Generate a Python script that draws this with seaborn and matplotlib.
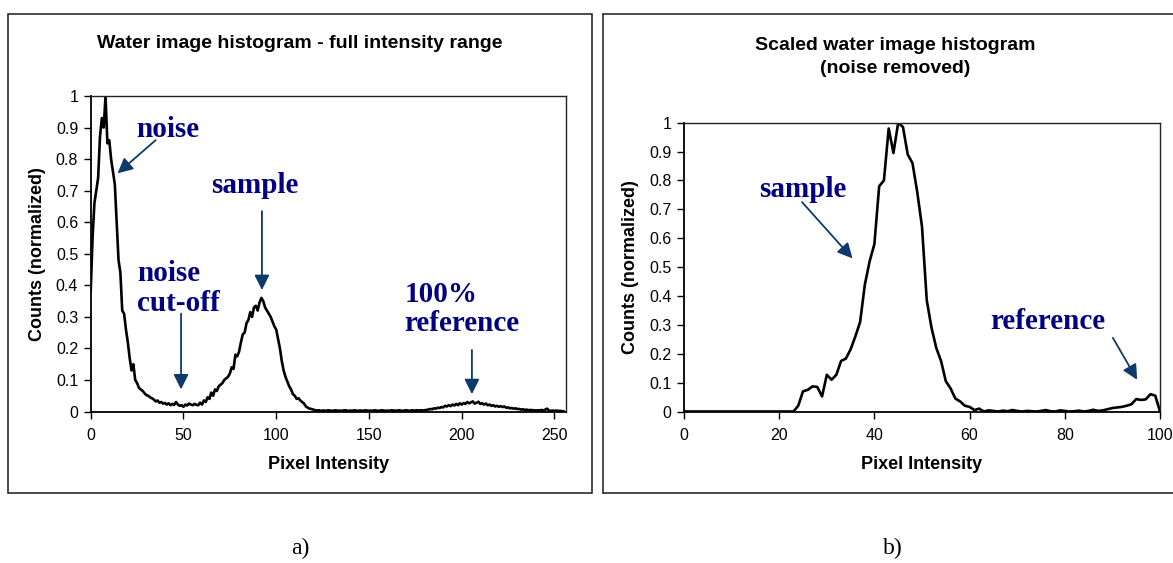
import matplotlib
matplotlib.use("Agg")
import matplotlib.pyplot as plt
import seaborn as sns
import pandas as pd
import numpy as np
from matplotlib.patches import Rectangle
from matplotlib.lines import Line2D

# ---------------- data ----------------
# Panel a) full intensity range, one value per intensity 0..255
full_counts = [
    0.38, 0.55, 0.66, 0.70, 0.74, 0.87, 0.93, 0.90, 1.00, 0.85,
    0.86, 0.80, 0.76, 0.72, 0.60, 0.48, 0.44, 0.32, 0.31, 0.26,
    0.22, 0.17, 0.13, 0.15, 0.10, 0.09, 0.075, 0.07, 0.065, 0.058,
    0.052, 0.050, 0.045, 0.042, 0.038, 0.032, 0.035, 0.028, 0.030, 0.025,
    0.027, 0.022, 0.026, 0.020, 0.024, 0.021, 0.030, 0.022, 0.018, 0.020,
    0.015, 0.022, 0.019, 0.025, 0.022, 0.020, 0.024, 0.021, 0.020, 0.028,
    0.022, 0.035, 0.030, 0.045, 0.040, 0.060, 0.050, 0.070, 0.065, 0.080,
    0.085, 0.090, 0.100, 0.105, 0.110, 0.120, 0.140, 0.135, 0.180, 0.175,
    0.190, 0.220, 0.245, 0.250, 0.280, 0.290, 0.315, 0.300, 0.330, 0.335,
    0.320, 0.345, 0.360, 0.350, 0.330, 0.320, 0.310, 0.300, 0.285, 0.270,
    0.260, 0.230, 0.200, 0.160, 0.130, 0.110, 0.095, 0.080, 0.070, 0.055,
    0.050, 0.040, 0.042, 0.035, 0.030, 0.025, 0.016, 0.012, 0.009, 0.008,
    0.006, 0.004, 0.003, 0.004, 0.002, 0.003, 0.003, 0.002, 0.004, 0.003,
    0.002, 0.003, 0.004, 0.002, 0.003, 0.002, 0.003, 0.004, 0.003, 0.002,
    0.003, 0.002, 0.004, 0.003, 0.002, 0.003, 0.003, 0.002, 0.004, 0.003,
    0.002, 0.003, 0.002, 0.004, 0.003, 0.002, 0.003, 0.004, 0.003, 0.002,
    0.003, 0.002, 0.004, 0.003, 0.003, 0.002, 0.004, 0.003, 0.002, 0.003,
    0.004, 0.003, 0.002, 0.004, 0.003, 0.003, 0.004, 0.003, 0.004, 0.003,
    0.004, 0.005, 0.006, 0.008, 0.007, 0.010, 0.009, 0.012, 0.011, 0.014,
    0.013, 0.018, 0.016, 0.020, 0.017, 0.022, 0.019, 0.024, 0.020, 0.026,
    0.022, 0.027, 0.024, 0.030, 0.026, 0.029, 0.032, 0.025, 0.028, 0.031,
    0.024, 0.026, 0.022, 0.025, 0.020, 0.022, 0.018, 0.020, 0.016, 0.018,
    0.015, 0.017, 0.014, 0.016, 0.012, 0.013, 0.010, 0.011, 0.009, 0.010,
    0.008, 0.008, 0.006, 0.007, 0.005, 0.006, 0.004, 0.005, 0.004, 0.004,
    0.003, 0.004, 0.003, 0.005, 0.003, 0.006, 0.009, 0.003, 0.002, 0.003,
    0.002, 0.003, 0.002, 0.002, 0.001, 0.001,
]
full_intensity = list(range(len(full_counts)))

# Panel b) scaled histogram, intensity 0..100
scaled_counts = [
    0, 0, 0, 0, 0, 0, 0, 0, 0, 0,
    0, 0, 0, 0, 0, 0, 0, 0, 0, 0,
    0, 0, 0, 0, 0.02, 0.07, 0.075, 0.087, 0.085, 0.052,
    0.127, 0.11, 0.127, 0.175, 0.183, 0.215, 0.26, 0.31, 0.44, 0.52,
    0.58, 0.78, 0.80, 0.98, 0.895, 1.00, 0.985, 0.89, 0.86, 0.76,
    0.64, 0.385, 0.29, 0.22, 0.175, 0.105, 0.08, 0.045, 0.035, 0.02,
    0.016, 0.005, 0.010, 0.0, 0.004, 0.002, 0.0, 0.003, 0.001, 0.005,
    0.002, 0.0, 0.002, 0.001, 0.0, 0.002, 0.005, 0.001, 0.0, 0.004,
    0.002, 0.0, 0.001, 0.003, 0.0, 0.002, 0.006, 0.002, 0.004, 0.008,
    0.012, 0.014, 0.016, 0.020, 0.025, 0.043, 0.040, 0.042, 0.060, 0.055,
    0.0,
]
scaled_intensity = list(range(len(scaled_counts)))

y_ticks = [0, 0.1, 0.2, 0.3, 0.4, 0.5, 0.6, 0.7, 0.8, 0.9, 1]
y_tick_labels = ["0", "0.1", "0.2", "0.3", "0.4", "0.5", "0.6", "0.7", "0.8", "0.9", "1"]
x_ticks_a = [0, 50, 100, 150, 200, 250]
x_ticks_b = [0, 20, 40, 60, 80, 100]

title_a = "Water image histogram - full intensity range"
title_b = "Scaled water image histogram\n(noise removed)"
xlabel = "Pixel Intensity"
ylabel = "Counts (normalized)"

# ---------------- style ----------------
sns.set_theme(style="white")
plt.rcParams["font.family"] = ["Liberation Sans", "DejaVu Sans"]
plt.rcParams["text.color"] = "black"
plt.rcParams["axes.labelcolor"] = "black"

W, H = 1173, 563
fig = plt.figure(figsize=(W / 100, H / 100), dpi=100)

def fx(px):
    return px / W

def fy(py):
    return (H - py) / H

ax_a = fig.add_axes([fx(90.7), fy(411.5), fx(565.6) - fx(90.7), fy(96) - fy(411.5)])
ax_b = fig.add_axes([fx(684), fy(411.5), fx(1160) - fx(684), fy(122.7) - fy(411.5)])

df_a = pd.DataFrame({"x": full_intensity, "y": full_counts})
df_b = pd.DataFrame({"x": scaled_intensity, "y": scaled_counts})
sns.lineplot(data=df_a, x="x", y="y", ax=ax_a, color="black", lw=1.9)
sns.lineplot(data=df_b, x="x", y="y", ax=ax_b, color="black", lw=1.9)

text_color = "#000080"
arrow_color = "#0d3a6a"

for ax, xt, xmax in [(ax_a, x_ticks_a, 256), (ax_b, x_ticks_b, 100)]:
    ax.set_xlim(0, xmax)
    ax.set_ylim(0, 1)
    ax.set_xticks(xt)
    ax.set_xticklabels([str(v) for v in xt])
    ax.set_yticks(y_ticks)
    ax.set_yticklabels(y_tick_labels)
    ax.tick_params(axis="both", which="major", direction="out", length=5,
                   width=1, colors="black", labelsize=11.5, pad=4,
                   bottom=True, left=True)
    ax.tick_params(axis="x", pad=7)
    for s in ["left", "bottom"]:
        ax.spines[s].set_color("black")
        ax.spines[s].set_linewidth(1.3)
    for s in ["top", "right"]:
        ax.spines[s].set_color("#222222")
        ax.spines[s].set_linewidth(1.0)
    ax.set_xlabel(xlabel, fontsize=13, fontweight="bold", labelpad=9, color="black")
    ax.set_ylabel(ylabel, fontsize=13, fontweight="bold", labelpad=7, color="black")
    ax.grid(False)
    ax.set_facecolor("white")

# titles
fig.text(fx(300), fy(44), title_a, ha="center", va="center", fontsize=14,
         fontweight="bold", color="black")
fig.text(fx(895), fy(57), title_b, ha="center", va="center", fontsize=14,
         fontweight="bold", linespacing=1.5, color="black")

# annotations
serif = ["Liberation Serif", "DejaVu Serif"]
aprops = dict(arrowstyle="-|>,head_length=0.6,head_width=0.3", color=arrow_color,
              lw=1.3, mutation_scale=15, shrinkA=0, shrinkB=0)
ann_kw = dict(fontsize=21, fontweight="bold", color=text_color, family=serif)

ax_a.text(41.5, 0.895, "noise", ha="center", va="center", **ann_kw)
ax_a.annotate("", xy=(14.5, 0.755), xytext=(35, 0.86), arrowprops=aprops)

ax_a.text(88.5, 0.715, "sample", ha="center", va="center", **ann_kw)
ax_a.annotate("", xy=(92.3, 0.385), xytext=(92.3, 0.635), arrowprops=aprops)

ax_a.text(25, 0.39, "noise\ncut-off", ha="left", va="center", linespacing=1.12, **ann_kw)
ax_a.annotate("", xy=(48.7, 0.07), xytext=(48.7, 0.31), arrowprops=aprops)

ax_a.text(169, 0.325, "100%\nreference", ha="left", va="center", linespacing=1.12, **ann_kw)
ax_a.annotate("", xy=(205.5, 0.055), xytext=(205.5, 0.195), arrowprops=aprops)

ax_b.text(24.9, 0.77, "sample", ha="center", va="center", **ann_kw)
ax_b.annotate("", xy=(35.4, 0.53), xytext=(24.8, 0.725), arrowprops=aprops)

ax_b.text(76.4, 0.31, "reference", ha="center", va="center", **ann_kw)
ax_b.annotate("", xy=(95.2, 0.11), xytext=(90.1, 0.255), arrowprops=aprops)

# outer boxes
fig.add_artist(Rectangle((fx(8), fy(493)), fx(592) - fx(8), fy(14) - fy(493),
                         transform=fig.transFigure, fill=False, edgecolor="#1a1a1a", lw=1.1))
for (x0, y0, x1, y1) in [(603, 14, 1180, 14), (603, 493, 1180, 493), (603, 14, 603, 493)]:
    fig.add_artist(Line2D([fx(x0), fx(x1)], [fy(y0), fy(y1)], transform=fig.transFigure,
                          color="#1a1a1a", lw=1.1))

# panel labels
fig.text(fx(300), fy(548), "a)", ha="center", va="center", fontsize=17, family=serif, color="black")
fig.text(fx(893), fy(548), "b)", ha="center", va="center", fontsize=17, family=serif, color="black")

fig.savefig("out.png", dpi=100, facecolor="white")
